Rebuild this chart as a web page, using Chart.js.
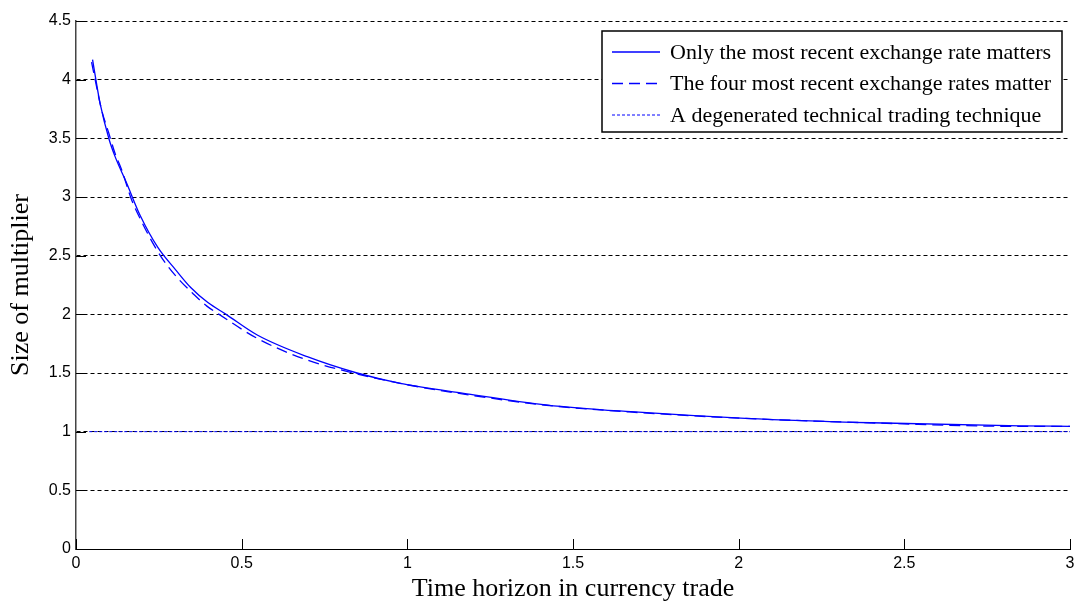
<!DOCTYPE html>
<html>
<head>
<meta charset="utf-8">
<script src="https://cdn.jsdelivr.net/npm/chart.js@4.4.1/dist/chart.umd.min.js"></script>
<style>
  html, body { margin: 0; padding: 0; background: #fff; }
  #wrap { width: 1080px; height: 606px; }
</style>
</head>
<body>
<div id="wrap"><canvas id="chart" width="1080" height="606"></canvas></div>
<script>
// values
var seriesNames = [
  'Only the most recent exchange rate matters',
  'The four most recent exchange rates matter',
  'A degenerated technical trading technique'
];
var recentX = [0.05, 0.06, 0.0725, 0.1, 0.118, 0.153, 0.193, 0.247, 0.302, 0.347, 0.398, 0.453, 0.547, 0.698, 0.848, 0.979, 1.17, 1.422, 1.674, 2.02, 2.4, 2.85, 3.0];
var recentY = [4.17, 4.0, 3.80, 3.49, 3.344, 3.117, 2.846, 2.57, 2.375, 2.226, 2.1, 2.0, 1.824, 1.639, 1.5, 1.412, 1.327, 1.227, 1.17, 1.114, 1.076, 1.05, 1.045];
var fourX = [0.047, 0.057, 0.0775, 0.0977, 0.118, 0.138, 0.168, 0.198, 0.244, 0.277, 0.312, 0.352, 0.395, 0.432, 0.547, 0.698, 0.837, 1.0, 1.17, 1.42, 1.67, 2.02, 2.4, 2.85, 3.0];
var fourY = [4.15, 4.01, 3.74, 3.556, 3.37, 3.23, 2.975, 2.79, 2.548, 2.41, 2.293, 2.18, 2.07, 2.0, 1.795, 1.61, 1.5, 1.40, 1.32, 1.225, 1.168, 1.113, 1.075, 1.045, 1.045];
var techX = [0.04, 3.0];
var techY = [1.0, 1.0];
var yTicks = [0, 0.5, 1, 1.5, 2, 2.5, 3, 3.5, 4, 4.5];
var xTicks = [0, 0.5, 1, 1.5, 2, 2.5, 3];

function pts(xs, ys) {
  var out = [];
  for (var i = 0; i < xs.length; i++) out.push({x: xs[i], y: ys[i]});
  return out;
}

var serif = '"Liberation Serif", "DejaVu Serif", serif';
var sans = '"Liberation Sans", Arial, sans-serif';

// MATLAB style ticks pointing into the plot
var innerTicks = {
  id: 'innerTicks',
  afterDatasetsDraw: function(chart) {
    var ctx = chart.ctx, a = chart.chartArea;
    var xs = chart.scales.x, ys = chart.scales.y;
    ctx.save();
    ctx.strokeStyle = '#000';
    ctx.lineWidth = 1;
    ctx.setLineDash([]);
    ys.ticks.forEach(function(t) {
      var p = Math.round(ys.getPixelForValue(t.value)) + 0.5;
      ctx.beginPath(); ctx.moveTo(a.left, p); ctx.lineTo(a.left + 10, p); ctx.stroke();
    });
    xs.ticks.forEach(function(t) {
      var p = Math.round(xs.getPixelForValue(t.value)) + 0.5;
      ctx.beginPath(); ctx.moveTo(p, a.bottom); ctx.lineTo(p, a.bottom - 10); ctx.stroke();
    });
    ctx.restore();
  }
};

// boxed legend inside the top right corner
var boxLegend = {
  id: 'boxLegend',
  afterDraw: function(chart) {
    var ctx = chart.ctx, a = chart.chartArea;
    var w = 460, h = 101;
    var x0 = a.right - 8 - w, y0 = a.top + 10;
    ctx.save();
    ctx.fillStyle = '#fff';
    ctx.fillRect(x0, y0, w, h);
    ctx.strokeStyle = '#000';
    ctx.lineWidth = 1.5;
    ctx.strokeRect(x0, y0, w, h);
    ctx.font = '22px ' + serif;
    ctx.textBaseline = 'middle';
    ctx.fillStyle = '#000';
    chart.data.datasets.forEach(function(ds, i) {
      var cy = y0 + 21 + i * 31.5;
      ctx.strokeStyle = ds.borderColor;
      ctx.lineWidth = ds.borderWidth;
      ctx.setLineDash(ds.borderDash || []);
      ctx.beginPath(); ctx.moveTo(x0 + 10, cy); ctx.lineTo(x0 + 58, cy); ctx.stroke();
      ctx.setLineDash([]);
      ctx.fillText(ds.label, x0 + 68, cy + 1);
    });
    ctx.restore();
  }
};

function plain(v) { return String(v); }

new Chart(document.getElementById('chart'), {
  type: 'scatter',
  data: {
    datasets: [
      { label: seriesNames[0], data: pts(recentX, recentY), showLine: true, borderColor: '#0000ff',
        borderWidth: 1.3, pointRadius: 0, cubicInterpolationMode: 'monotone' },
      { label: seriesNames[1], data: pts(fourX, fourY), showLine: true, borderColor: '#0000ff',
        borderWidth: 1.3, borderDash: [11, 6], pointRadius: 0, cubicInterpolationMode: 'monotone' },
      { label: seriesNames[2], data: pts(techX, techY), showLine: true, borderColor: '#0000ff',
        borderWidth: 1, borderDash: [3, 2], pointRadius: 0 }
    ]
  },
  options: {
    responsive: false,
    animation: false,
    layout: { padding: { top: 21, right: 10, left: 0, bottom: 0 } },
    plugins: { legend: { display: false }, tooltip: { enabled: false } },
    scales: {
      x: {
        type: 'linear', min: 0, max: 3,
        afterBuildTicks: function(s) { s.ticks = xTicks.map(function(v) { return {value: v}; }); },
        afterFit: function(s) { s.height = 57; },
        grid: { display: false, drawTicks: false },
        border: { display: true, color: '#000', width: 1 },
        ticks: { color: '#000', padding: 5, font: { family: sans, size: 16 }, maxRotation: 0, callback: plain },
        title: { display: true, text: 'Time horizon in currency trade', color: '#000',
          font: { family: serif, size: 26 }, padding: { top: 0, bottom: 1 } }
      },
      y: {
        type: 'linear', min: 0, max: 4.5,
        afterBuildTicks: function(s) { s.ticks = yTicks.map(function(v) { return {value: v}; }); },
        afterFit: function(s) { s.width = 76; },
        grid: { color: '#000', lineWidth: 1, drawTicks: false },
        border: { display: true, color: '#444', width: 1.5, dash: [4, 3] },
        ticks: { color: '#000', padding: 5, font: { family: sans, size: 16 }, callback: plain },
        title: { display: true, text: 'Size of multiplier', color: '#000',
          font: { family: serif, size: 26 }, padding: { top: 6, bottom: 0 } }
      }
    }
  },
  plugins: [innerTicks, boxLegend]
});
</script>
</body>
</html>
